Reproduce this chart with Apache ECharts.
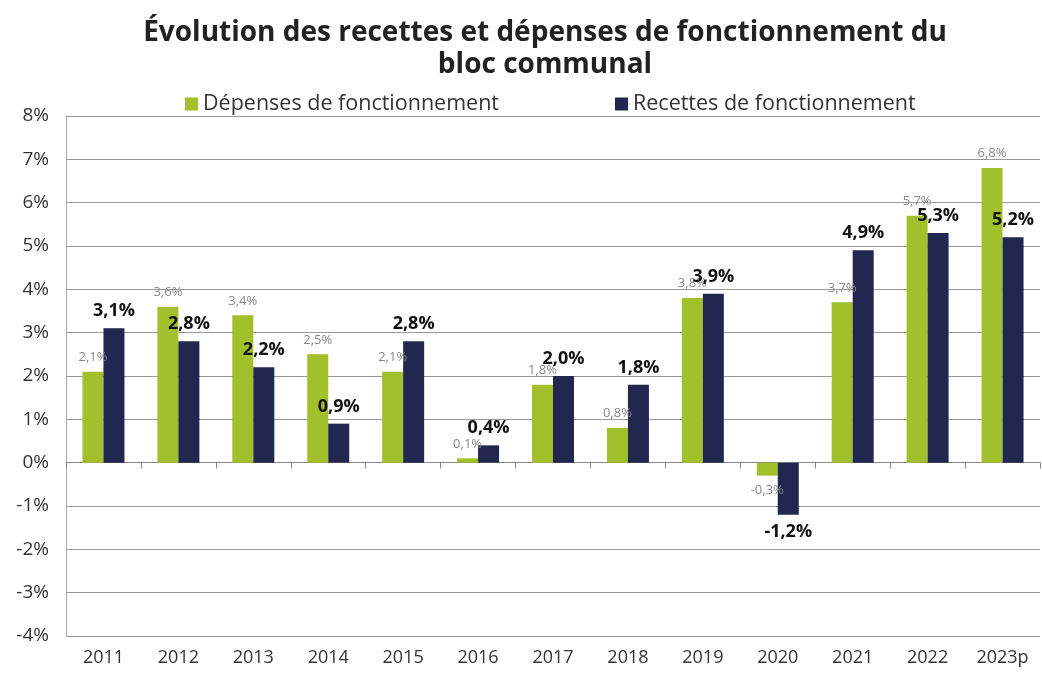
<!DOCTYPE html>
<html>
<head>
<meta charset="utf-8">
<script src="https://cdn.jsdelivr.net/npm/echarts@6/dist/echarts.min.js"></script>
<style>
  html, body { margin: 0; padding: 0; background: #fff; }
  #chart { width: 1042px; height: 674px; }
</style>
</head>
<body>
<div id="chart"></div>
<script>
const years = ["2011", "2012", "2013", "2014", "2015", "2016", "2017", "2018", "2019", "2020", "2021", "2022", "2023p"];
const depenses = [2.1, 3.6, 3.4, 2.5, 2.1, 0.1, 1.8, 0.8, 3.8, -0.3, 3.7, 5.7, 6.8];
const recettes = [3.1, 2.8, 2.2, 0.9, 2.8, 0.4, 2.0, 1.8, 3.9, -1.2, 4.9, 5.3, 5.2];

const font = "'Open Sans', Lato, sans-serif";
const green = "#a2bf2c";
const navy = "#23264f";

function fmt(v) {
  return v.toFixed(1).replace(".", ",") + "%";
}
function withPos(arr) {
  return arr.map((v) => ({
    value: v,
    label: { position: v < 0 ? "bottom" : "top" },
  }));
}

let myChart = echarts.init(document.getElementById("chart"));
let option = {
  animation: false,
  textStyle: { fontFamily: font },
  title: {
    text: "Évolution des recettes et dépenses de fonctionnement du\nbloc communal",
    left: 540,
    textAlign: "center",
    top: 12,
    textStyle: {
      fontFamily: font,
      fontWeight: "bold",
      fontSize: 28,
      lineHeight: 32,
      color: "#222",
    },
  },
  legend: {
    top: 88,
    left: 180,
    icon: "rect",
    itemWidth: 13,
    itemHeight: 13,
    itemGap: 116,
    textStyle: { fontFamily: font, fontSize: 21.5, color: "#333" },
    data: ["Dépenses de fonctionnement", "Recettes de fonctionnement"],
  },
  grid: {
    left: 66,
    right: 2,
    top: 116,
    bottom: 38,
  },
  xAxis: {
    type: "category",
    data: years,
    axisLine: { onZero: true, lineStyle: { color: "#888", width: 1 } },
    axisTick: { show: true, length: 6, lineStyle: { color: "#888" } },
    axisLabel: {
      fontFamily: font,
      fontSize: 18,
      color: "#333",
      margin: 13,
    },
  },
  yAxis: {
    type: "value",
    min: -4,
    max: 8,
    interval: 1,
    axisLine: { show: true, lineStyle: { color: "#aaa" } },
    axisTick: { show: false },
    splitLine: { lineStyle: { color: "#999", width: 1 } },
    axisLabel: {
      formatter: "{value}%",
      fontFamily: font,
      fontSize: 19,
      color: "#333",
      margin: 17,
    },
  },
  series: [
    {
      name: "Dépenses de fonctionnement",
      type: "bar",
      data: withPos(depenses),
      itemStyle: { color: green },
      barWidth: 21,
      barGap: "0%",
      label: {
        show: true,
        formatter: (p) => fmt(p.value),
        fontFamily: font,
        fontSize: 13,
        color: "#888",
        distance: 8,
      },
    },
    {
      name: "Recettes de fonctionnement",
      type: "bar",
      data: withPos(recettes),
      itemStyle: { color: navy },
      barWidth: 21,
      barGap: "0%",
      label: {
        show: true,
        formatter: (p) => fmt(p.value),
        fontFamily: font,
        fontSize: 18,
        fontWeight: "bold",
        color: "#111",
        distance: 8,
      },
    },
  ],
};
myChart.setOption(option);
</script>
</body>
</html>
